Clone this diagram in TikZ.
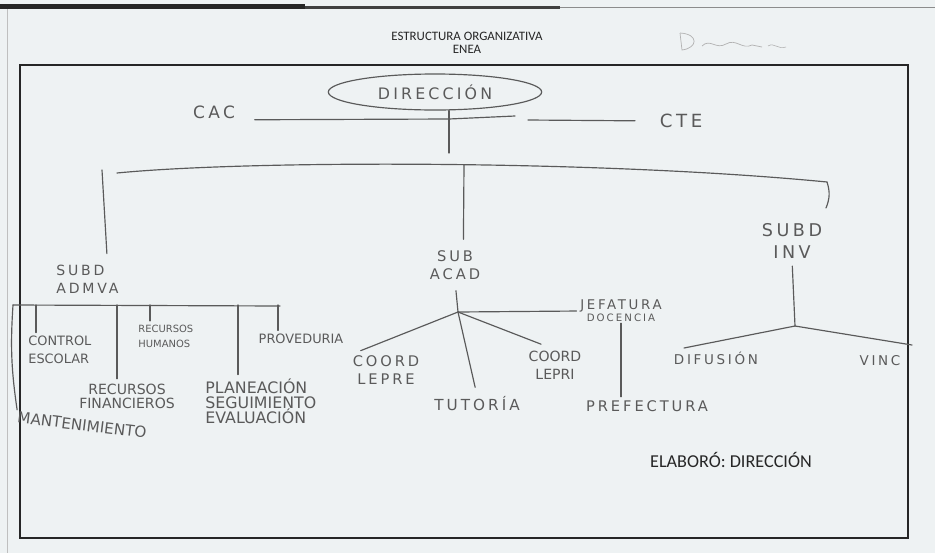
\documentclass[tikz,border=0pt]{standalone}
\usepackage{fontspec}
\setmainfont{Carlito}
\newfontfamily\handwide{DejaVu Sans}[LetterSpace=20]
\newfontfamily\handtight{DejaVu Sans}
\usetikzlibrary{shapes.geometric}
\definecolor{ink}{HTML}{5A5A5A}
\definecolor{paper}{HTML}{EEF2F3}

\begin{document}
\begin{tikzpicture}[
    x=0.03cm, y=-0.03cm,
    wire/.style={ink, line width=1pt, line cap=round},
    hand/.style={font=\handwide\fontsize{#1}{15}\selectfont, text=ink, inner sep=1pt, align=center},
    handn/.style={font=\handtight\fontsize{#1}{15}\selectfont, text=ink, inner sep=1pt, align=center},
    dirnode/.style={ellipse, draw=ink, line width=1pt, minimum width=6.4cm, minimum height=1.08cm},
    typed/.style={font=\fontsize{#1}{#1}\selectfont, text=black!85, inner sep=0pt}
]
    % --- PAGE ---
    \fill[paper] (0,0) rectangle (935,553);
    \useasboundingbox (0,0) rectangle (935,553);
    \fill[black!85] (0,4) rectangle (305,9);
    \fill[black!75] (305,5.5) rectangle (560,8.5);
    \draw[black!45, line width=0.8pt] (560,7) -- (935,7);
    \draw[black!25, line width=0.6pt] (7,9) -- (7,553);
    \draw[black!85, line width=1.5pt] (20,65) rectangle (908,538);

    % --- HEADER ---
    \node[typed=11] (title) at (467,36) {ESTRUCTURA ORGANIZATIVA};
    \node[typed=11] (enea) at (467,49) {ENEA};
    \node[typed=15.5] (elab) at (731,460) {ELABORÓ: DIRECCIÓN};
    % signature
    \draw[black!30, line width=0.6pt] (680,33) -- (682,50) .. controls (698,48) and (699,34) .. (680,33);
    \draw[black!30, line width=0.6pt] (702,46) .. controls (710,38) and (716,50) .. (726,44)
        .. controls (736,38) and (742,50) .. (752,45) -- (762,47);
    \draw[black!30, line width=0.5pt] (768,46) .. controls (774,42) and (778,50) .. (786,47);

    % --- TOP LEVEL ---
    \node[dirnode, hand=13.5] (dir) at (435,92) {DIRECCIÓN};
    \node[hand=14.5] (cac) at (214,112) {CAC};
    \node[hand=15.5] (cte) at (681,121) {CTE};
    \node[hand=12, align=left, anchor=west] (adm) at (55,279) {SUBD\\ADMVA};
    \node[hand=12.5] (acad) at (455,265) {SUB\\ACAD};
    \node[hand=15] (inv) at (792,241) {SUBD\\[3pt]INV};

    % --- ADMINISTRATIVA ---
    \node[handn=11, align=left, anchor=west] (ctrl) at (27,350) {CONTROL\\ESCOLAR};
    \node[handn=8.5, align=left, anchor=west] (rhum) at (137,336) {RECURSOS\\[-2pt]HUMANOS};
    \node[handn=12] (rfin) at (127,396) {RECURSOS\\[-3pt]FINANCIEROS};
    \node[handn=13, rotate=-7] (mant) at (82,425) {MANTENIMIENTO};
    \node[handn=13.5, align=left, anchor=west] (plan) at (204,401) {PLANEACIÓN\\[-2pt]SEGUIMIENTO\\[-2pt]EVALUACIÓN};
    \node[handn=11] (prov) at (301,339) {PROVEDURIA};

    % --- ACADEMICA ---
    \node[hand=12.5] (lepre) at (386,370) {COORD\\LEPRE};
    \node[hand=13] (tut) at (477,404) {TUTORÍA};
    \node[handn=12] (lepri) at (555,365) {COORD\\LEPRI};
    \node[hand=11.4] (jefa) at (621,311) {JEFATURA\\[-5pt]{\fontsize{8.7}{8.7}\selectfont DOCENCIA}};
    \node[hand=12.5] (pref) at (647,406) {PREFECTURA};

    % --- INVESTIGACION ---
    \node[hand=11.5] (dif) at (716,358) {DIFUSIÓN};
    \node[hand=11.5] (vinc) at (880,361) {VINC};

    % junctions
    \coordinate (jdir) at (449,153);
    \coordinate (jmid) at (449,119);
    \coordinate (jcut) at (515,116);
    \coordinate (jcte) at (528,120);
    \coordinate (barl) at (117,173);
    \coordinate (barr) at (827,182);
    \coordinate (tadm) at (102,170);
    \coordinate (tacad) at (464,165);
    \coordinate (binv) at (826,208);
    \coordinate (jacad) at (458,312);
    \coordinate (jinv) at (795,326);
    \coordinate (jvinc) at (912,345);
    \coordinate (admbl) at (13,305);
    \coordinate (admbr) at (280,306);
    \coordinate (tctrl) at (36,305);
    \coordinate (trfin) at (117,305);
    \coordinate (trhum) at (150,305);
    \coordinate (tplan) at (238,305);
    \coordinate (tprov) at (278,305);

    % --- LINES ---
    \draw[wire] (dir.south -| jdir) -- (jdir);
    \draw[wire, shorten <=0.55cm] (cac.south east) -- (jmid) -- (jcut);
    \draw[wire, shorten >=0.7cm] (jcte) -- (cte.west);
    \draw[wire] (barl) .. controls (250,160) and (600,160) .. (barr);
    \draw[wire, shorten >=0.3cm] (tadm) -- ([xshift=0.6cm]adm.north);
    \draw[wire, shorten >=0.3cm] (tacad) -- ([xshift=0.25cm]acad.north);
    \draw[wire] (barr) to[bend left=20] (binv);

    \draw[wire] (admbl) -- (admbr);
    \draw[wire] (admbl) to[bend right=6] (mant.north west);
    \draw[wire, shorten >=2pt] (tctrl) -- (tctrl |- ctrl.north);
    \draw[wire, shorten >=3pt] (trfin) -- (trfin |- rfin.north);
    \draw[wire, shorten >=2pt] (trhum) -- (trhum |- rhum.north);
    \draw[wire, shorten >=2pt] (tplan) -- (tplan |- plan.north);
    \draw[wire, shorten >=2pt] (tprov) -- (tprov |- prov.north);

    \draw[wire, shorten <=0.3cm] (acad.south) -- (jacad);
    \draw[wire, shorten >=2pt] (jacad) -- (jefa.west);
    \draw[wire, shorten >=0.3cm] (jacad) -- (lepre.north west);
    \draw[wire, shorten >=0.25cm] (jacad) -- (tut.north);
    \draw[wire, shorten >=0.45cm] (jacad) -- (lepri.north);
    \draw[wire, shorten >=2pt] (jefa.south) -- (jefa.south |- pref.north);

    \draw[wire, shorten <=0.2cm] (inv.south) -- (jinv);
    \draw[wire, shorten >=0.35cm] (jinv) -- (dif.north west);
    \draw[wire] (jinv) -- (jvinc);
\end{tikzpicture}
\end{document}
